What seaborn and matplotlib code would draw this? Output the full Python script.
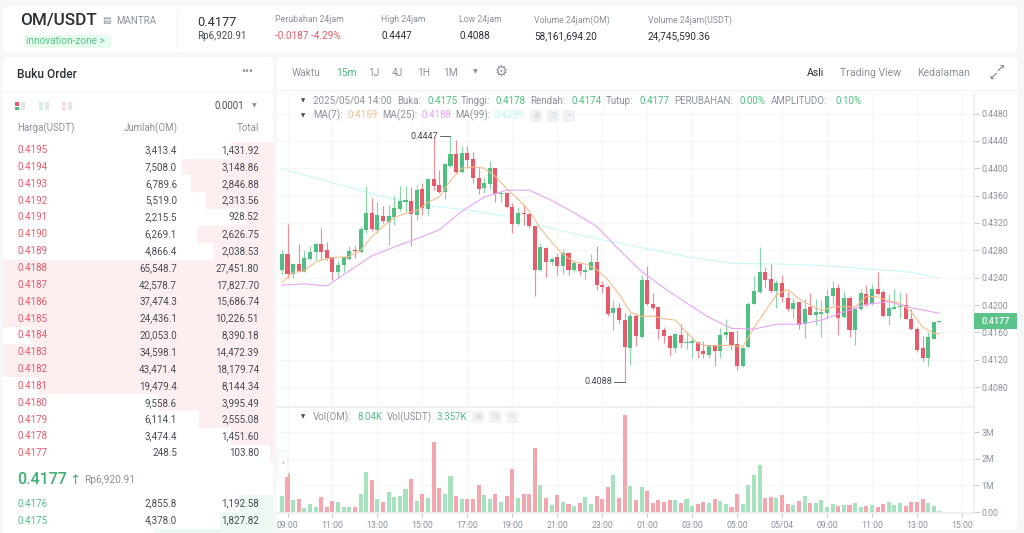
import matplotlib
matplotlib.use('Agg')
import matplotlib.pyplot as plt
from matplotlib.patches import FancyBboxPatch, Rectangle
import numpy as np
import pandas as pd
import seaborn as sns

# -----------------------------
# candle data, 15m
# -----------------------------
candle_open = [.4252, .4275, .4246, .4260, .4249, .4268, .4278, .4290, .4280, .4270, .4249, .4258,
               .4267, .4281, .4278, .4310, .4334, .4310, .4330, .4322, .4329, .4340, .4351, .4352,
               .4332, .4369, .4341, .4385, .4376, .4366, .4404, .4421, .4394, .4422, .4413, .4386,
               .4371, .4377, .4400, .4362, .4364, .4344, .4319, .4334, .4333, .4315, .4251, .4284,
               .4263, .4270, .4257, .4276, .4251, .4260, .4248, .4252, .4263, .4230, .4227, .4188,
               .4196, .4178, .4138, .4184, .4153, .4237, .4202, .4197, .4164, .4155, .4137, .4156,
               .4144, .4145, .4146, .4133, .4127, .4141, .4133, .4156, .4160, .4143, .4111, .4139,
               .4202, .4219, .4249, .4238, .4220, .4233, .4211, .4194, .4204, .4172, .4197, .4185,
               .4187, .4189, .4214, .4225, .4182, .4211, .4164, .4195, .4216, .4201, .4223, .4219,
               .4184, .4195, .4197, .4200, .4180, .4165, .4137, .4123, .4151, .4175]
candle_close = [.4275, .4246, .4260, .4250, .4269, .4278, .4290, .4278, .4269, .4249, .4258, .4270,
                .4279, .4279, .4311, .4334, .4311, .4331, .4323, .4330, .4342, .4352, .4353, .4333,
                .4368, .4342, .4385, .4374, .4366, .4406, .4421, .4394, .4423, .4412, .4386, .4369,
                .4378, .4400, .4363, .4364, .4343, .4319, .4334, .4333, .4315, .4251, .4285, .4263,
                .4268, .4257, .4276, .4251, .4261, .4250, .4252, .4263, .4229, .4226, .4187, .4196,
                .4178, .4139, .4184, .4155, .4237, .4202, .4196, .4165, .4155, .4137, .4158, .4144,
                .4146, .4147, .4133, .4128, .4141, .4133, .4157, .4160, .4141, .4111, .4138, .4202,
                .4220, .4249, .4237, .4220, .4232, .4212, .4194, .4203, .4171, .4195, .4186, .4190,
                .4190, .4214, .4225, .4181, .4210, .4164, .4195, .4217, .4200, .4223, .4216, .4184,
                .4196, .4197, .4199, .4180, .4165, .4135, .4122, .4153, .4175, .4177]
candle_high = [.4281, .4319, .4262, .4290, .4281, .4287, .4291, .4312, .4292, .4271, .4264, .4271,
               .4286, .4286, .4316, .4374, .4356, .4350, .4345, .4347, .4360, .4374, .4374, .4373,
               .4376, .4378, .4386, .4446, .4397, .4407, .4447, .4441, .4432, .4433, .4424, .4400,
               .4387, .4410, .4401, .4366, .4366, .4349, .4344, .4347, .4334, .4316, .4291, .4285,
               .4271, .4276, .4282, .4277, .4264, .4263, .4257, .4275, .4287, .4235, .4229, .4208,
               .4203, .4189, .4188, .4188, .4244, .4257, .4218, .4197, .4168, .4156, .4159, .4173,
               .4160, .4154, .4146, .4148, .4142, .4142, .4166, .4179, .4162, .4164, .4139, .4204,
               .4242, .4285, .4256, .4260, .4237, .4244, .4220, .4210, .4205, .4209, .4217, .4209,
               .4208, .4223, .4235, .4231, .4220, .4213, .4196, .4224, .4230, .4231, .4249, .4222,
               .4216, .4223, .4219, .4217, .4194, .4168, .4155, .4161, .4176, .4178]
candle_low = [.4246, .4240, .4240, .4249, .4248, .4266, .4266, .4266, .4266, .4236, .4240, .4248,
              .4266, .4269, .4276, .4306, .4308, .4305, .4320, .4288, .4317, .4338, .4336, .4287,
              .4324, .4332, .4332, .4368, .4364, .4355, .4402, .4392, .4393, .4400, .4378, .4363,
              .4364, .4369, .4351, .4351, .4342, .4306, .4317, .4317, .4312, .4213, .4250, .4241,
              .4259, .4244, .4245, .4244, .4248, .4244, .4238, .4251, .4222, .4217, .4184, .4163,
              .4174, .4088, .4112, .4140, .4152, .4200, .4193, .4151, .4145, .4125, .4130, .4138,
              .4136, .4123, .4122, .4122, .4123, .4111, .4122, .4150, .4134, .4105, .4110, .4137,
              .4201, .4218, .4226, .4219, .4196, .4204, .4192, .4181, .4165, .4152, .4185, .4171,
              .4154, .4179, .4200, .4157, .4181, .4154, .4142, .4193, .4199, .4200, .4215, .4182,
              .4171, .4194, .4181, .4179, .4164, .4131, .4118, .4111, .4150, .4174]
volume_m = [.61, 1.45, .44, .50, .16, .30, .19, .55, .18, .41, .36, .19, .18, .20, .68, 1.50, 1.19,
            .48, .36, .75, .56, .61, .85, 1.25, .40, .69, .51, 2.64, .89, .68, 1.35, .60, .49, .48,
            .49, 1.01, .64, .50, .66, .38, .60, 1.61, .51, .68, .68, 2.39, 1.03, .53, .26, .65, .38,
            .29, .23, .34, .55, .30, .60, .48, .93, 1.39, .53, 3.64, .96, .45, .95, .78, .35, .45,
            .36, .44, .45, .34, .50, .21, .29, .38, .34, .50, .43, .31, .19, .69, .31, 1.03, 1.39,
            1.75, .51, .55, .54, .63, .30, .25, .40, .61, .33, .34, .45, .19, .31, .24, .25, .25,
            .34, .19, .23, .25, .20, .30, .38, .26, .33, .21, .39, .38, .48, .33, .23, .04]

ma7_idx = [-1, 1, 3, 5, 7, 9, 11, 13, 15, 17, 19, 21, 23, 25, 27, 29, 31, 33, 35, 37, 39, 41, 43, 45,
           47, 49, 51, 53, 55, 57, 59, 61, 63, 65, 67, 69, 71, 73, 75, 77, 79, 81, 83, 85, 87, 89,
           91, 93, 95, 97, 99, 101, 103, 105, 107, 109, 111, 113, 115, 116]
ma7 = [.4233, .4248, .4250, .4263, .4268, .4270, .4271, .4280, .4300, .4315, .4328, .4334, .4338,
       .4350, .4358, .4382, .4400, .4402, .4400, .4388, .4370, .4355, .4338, .4312, .4292, .4274,
       .4263, .4260, .4252, .4237, .4216, .4190, .4183, .4184, .4180, .4178, .4160, .4144, .4140,
       .4141, .4141, .4139, .4167, .4191, .4215, .4223, .4209, .4200, .4192, .4197, .4198, .4197,
       .4213, .4212, .4206, .4203, .4190, .4168, .4159, .4158]
ma25_idx = [-1, 3, 7, 11, 15, 19, 23, 27, 31, 35, 39, 43, 47, 51, 55, 59, 63, 67, 71, 75, 79, 83,
            87, 91, 95, 99, 103, 107, 111, 116]
ma25 = [.4229, .4231, .4228, .4250, .4272, .4285, .4297, .4310, .4337, .4358, .4368, .4368, .4353,
        .4335, .4315, .4281, .4249, .4225, .4203, .4182, .4166, .4165, .4172, .4172, .4178, .4190,
        .4201, .4205, .4196, .4188]
ma99_idx = [-1, 7, 15, 23, 31, 39, 47, 55, 63, 71, 79, 87, 95, 103, 111, 114, 116]
ma99 = [.4399, .4381, .4363, .4347, .4340, .4330, .4312, .4297, .4284, .4271, .4261, .4260, .4258,
        .4253, .4248, .4243, .4240]

price_ticks = [.4080, .4120, .4160, .4200, .4240, .4280, .4320, .4360, .4400, .4440, .4480]
vol_ticks = [0, 1, 2, 3]
vol_tick_labels = ['0.00', '1M', '2M', '3M']
time_tick_idx = list(range(0, 121, 8))
time_labels = ['09:00', '11:00', '13:00', '15:00', '17:00', '19:00', '21:00', '23:00',
               '01:00', '03:00', '05:00', '05/04', '09:00', '11:00', '13:00', '15:00']

# order book
ask_price = ['0.4195', '0.4194', '0.4193', '0.4192', '0.4191', '0.4190', '0.4189', '0.4188', '0.4187', '0.4186',
             '0.4185', '0.4184', '0.4183', '0.4182', '0.4181', '0.4180', '0.4179', '0.4178', '0.4177']
ask_amount = ['3,413.4', '7,508.0', '6,789.6', '5,519.0', '2,215.5', '6,269.1', '4,866.4', '65,548.7', '42,578.7',
              '37,474.3', '24,436.1', '20,053.0', '34,598.1', '43,471.4', '19,479.4', '9,558.6', '6,114.1',
              '3,474.4', '248.5']
ask_total = [1431.92, 3148.86, 2846.88, 2313.56, 928.52, 2626.75, 2038.53, 27451.80, 17827.70, 15686.74,
             10226.51, 8390.18, 14472.39, 18179.74, 8144.34, 3995.49, 2555.08, 1451.60, 103.80]
bid_price = ['0.4176', '0.4175', '0.4174']
bid_amount = ['2,855.8', '4,378.0']
bid_total = [1192.58, 1827.82, 4118.0]

# header
header_stats = [('Perubahan 24jam', '-0.0187 -4.29%', 275), ('High 24jam', '0.4447', 381),
                ('Low 24jam', '0.4088', 459), ('Volume 24jam(OM)', '58,161,694.20', 534),
                ('Volume 24jam(USDT)', '24,745,590.36', 648)]

RED, GREEN = '#e75a69', '#52bf82'
RED_SOFT, GREEN_SOFT = '#f3a6ae', '#a6e2bd'
GRID = '#f5f6f7'
DARK, MID, LIGHT = '#2b2f36', '#474d57', '#8a919e'

sns.set_theme(style='white')
plt.rcParams['font.family'] = ['Roboto', 'DejaVu Sans']
plt.rcParams['axes.unicode_minus'] = False

W, H = 1024, 533
fig = plt.figure(figsize=(W / 100, H / 100), dpi=100, facecolor='#f6f7f9')


def px_axes(x0, y0, x1, y1, zorder=1):
    """axes placed by pixel box, y measured from the top"""
    ax = fig.add_axes([x0 / W, 1 - y1 / H, (x1 - x0) / W, (y1 - y0) / H], zorder=zorder)
    ax.patch.set_alpha(0)
    return ax


# -----------------------------
# panels in the back, text overlay in front
# -----------------------------
bg = px_axes(0, 0, W, H, zorder=0)
bg.set_xlim(0, W)
bg.set_ylim(H, 0)
bg.axis('off')
for x0, y0, x1, y1 in [(3, 6, 1018, 52), (3, 57, 273, 545), (277, 57, 1018, 529)]:
    bg.add_patch(FancyBboxPatch((x0 + 5, y0 + 5), x1 - x0 - 10, y1 - y0 - 10,
                                boxstyle='round,pad=5', fc='white', ec='none'))
bg.plot([177, 177], [9, 48], color='#f1f2f4', lw=0.8)
bg.plot([3, 273], [91, 91], color='#f3f4f6', lw=0.8)
bg.plot([277, 1018], [90, 90], color='#f3f4f6', lw=0.8)

ui = px_axes(0, 0, W, H, zorder=5)
ui.set_xlim(0, W)
ui.set_ylim(H, 0)
ui.axis('off')


def label(x, y, s, size=6.4, color=MID, ha='left', weight='normal', **kw):
    ui.text(x, y, s, fontsize=size, color=color, ha=ha, va='center', fontweight=weight, **kw)


# header
label(20, 21, 'OM/USDT', size=12.3, color=DARK, weight='medium')
label(102, 21, '▤', size=6.5, color=LIGHT)
label(116, 21, 'MANTRA', size=7, color=LIGHT)
ui.add_patch(Rectangle((24, 35), 87, 13, fc='#e8fbef', ec='none'))
label(26, 41.5, 'innovation-zone >', size=7.2, color='#58c487')
label(197, 22, '0.4177', size=9.2, color=DARK)
label(197, 36, 'Rp6,920.91', size=7.1, color=MID)
for title, value, x in header_stats:
    label(x, 20, title, size=6.3, color=LIGHT)
    label(x, 36, value, size=7.2, color=RED if value.startswith('-') else DARK)

# toolbar
label(292, 73, 'Waktu', size=7.4, color=LIGHT)
label(336, 73, '15m', size=7.4, color='#4cb979')
label(368, 73, '1J', size=7.4, color=LIGHT)
label(392, 73, '4J', size=7.4, color=LIGHT)
label(417, 73, '1H', size=7.4, color=LIGHT)
label(443, 73, '1M', size=7.4, color=LIGHT)
label(473, 72, '▼', size=4.5, color=LIGHT)
label(495, 72, '⚙', size=10.5, color=LIGHT)
label(807, 73, 'Asli', size=7.6, color=DARK)
label(840, 73, 'Trading View', size=7.6, color=LIGHT)
label(917, 73, 'Kedalaman', size=7.6, color=LIGHT)
label(988, 77, '↙', size=8, color=LIGHT, weight='bold')
label(995, 69, '↗', size=8, color=LIGHT, weight='bold')

# order book text
label(17, 74, 'Buku Order', size=8.6, color=DARK, weight='medium')
label(241, 72, '•••', size=8.5, color=LIGHT)
for k, (x, c) in enumerate([(15, ['#e75a69', '#52bf82']), (39, ['#cfeedd', '#cfeedd']), (62, ['#fad9dc', '#fad9dc'])]):
    ui.add_patch(Rectangle((x, 102), 4, 3.5, fc=c[0], ec='none'))
    ui.add_patch(Rectangle((x, 106.5), 4, 3.5, fc=c[1], ec='none'))
    ui.add_patch(Rectangle((x + 5.5, 102), 4, 8, fc='#e3e5e8', ec='none'))
label(244, 106, '0.0001', size=7, ha='right')
label(252, 105.5, '▼', size=4.5, color=LIGHT)
label(17, 128, 'Harga(USDT)', size=7, color=LIGHT)
label(178, 128, 'Jumlah(OM)', size=7, color=LIGHT, ha='right')
label(259, 128, 'Total', size=7, color=LIGHT, ha='right')

row_h = 320 / 19
for k, (p, a, t) in enumerate(zip(ask_price, ask_amount, ask_total)):
    y = 141.7 + row_h * (k + 0.5)
    label(17, y, p, size=7, color=RED)
    label(177, y, a, size=7.1, ha='right')
    label(259, y, f'{t:,.2f}', size=7.1, ha='right')
label(17, 480, '0.4177', size=11.5, color='#3fb072', weight='medium')
label(69, 480, '↑', size=9.5, color='#3fb072')
label(84, 480, 'Rp6,920.91', size=7.3, color=LIGHT)
for k, (p, a) in enumerate(zip(bid_price, bid_amount)):
    y = 503.6 + 16.9 * k
    label(17, y, p, size=7, color='#52bf82')
    label(177, y, a, size=7.1, ha='right')
    label(259, y, f'{bid_total[k]:,.2f}', size=7.1, ha='right')

# depth bars, same scale for asks and bids. linewidth 0, the theme puts white edges on patches
depth_max = 270 / 0.0289
ask_ax = px_axes(3, 141.7, 273, 461.7)
sns.barplot(x=ask_total, y=ask_price, orient='h', color='#fdeef0', saturation=1, width=1.0, linewidth=0, ax=ask_ax)
ask_ax.set_xlim(depth_max, 0)
ask_ax.set_ylim(18.5, -0.5)
ask_ax.axis('off')
bid_ax = px_axes(3, 495, 273, 533)
sns.barplot(x=bid_total, y=bid_price, orient='h', color='#eef8f2', saturation=1, width=1.0, linewidth=0, ax=bid_ax)
bid_ax.set_xlim(depth_max, 0)
bid_ax.set_ylim(1.75, -0.5)
bid_ax.axis('off')

# -----------------------------
# candles + MA
# -----------------------------
idx = np.arange(-1, 117)
candles = pd.DataFrame({'idx': idx, 'open': candle_open, 'high': candle_high, 'low': candle_low,
                        'close': candle_close, 'vol': volume_m})
candles['dir'] = np.where(candles['close'] >= candles['open'], 'up', 'down')

x_px = lambda px: (px - 287.5) / 5.62
y_per_px = 0.004 / 27.37
price_ax = px_axes(277, 93, 974, 407, zorder=2)
price_ax.set_xlim(x_px(277), x_px(974))
price_ax.set_ylim(.4480 - (407 - 113.5) * y_per_px, .4480 + (113.5 - 93) * y_per_px)

for d, body_c, wick_c in [('up', GREEN, '#8bd5aa'), ('down', RED, '#ef8d97')]:
    part = candles[candles['dir'] == d]
    price_ax.vlines(part['idx'], part['low'], part['high'], color=wick_c, lw=0.85, zorder=3)
    bottom = part[['open', 'close']].min(axis=1)
    height = (part['close'] - part['open']).abs().clip(lower=0.00018)
    price_ax.bar(part['idx'], height, bottom=bottom, width=0.72, color=body_c, linewidth=0, zorder=4)

sns.lineplot(x=ma7_idx, y=ma7, color='#f6bd8c', lw=0.8, ax=price_ax, zorder=5)
sns.lineplot(x=ma25_idx, y=ma25, color='#e8a4f6', lw=0.8, ax=price_ax, zorder=5)
sns.lineplot(x=ma99_idx, y=ma99, color='#c8f7fa', lw=0.8, ax=price_ax, zorder=2.5)

price_ax.set_yticks(price_ticks)
price_ax.set_yticklabels([f'{p:.4f}' for p in price_ticks])
price_ax.set_xticks(time_tick_idx)
price_ax.set_xticklabels([])
price_ax.yaxis.tick_right()
price_ax.grid(True, color=GRID, lw=0.8)
price_ax.set_axisbelow(True)
price_ax.tick_params(axis='y', length=3.5, width=0.6, color='#b7bdc6', labelsize=6.3,
                     labelcolor=LIGHT, pad=2, right=True)
price_ax.tick_params(axis='x', length=0)
for s in ['top', 'left']:
    price_ax.spines[s].set_visible(False)
price_ax.spines['right'].set_color('#eceef0')
price_ax.spines['bottom'].set_color('#eceef0')

hi = candles.loc[candles['high'].idxmax()]
lo = candles.loc[candles['low'].idxmin()]
for row, val in [(hi, hi['high']), (lo, lo['low'])]:
    price_ax.plot([row['idx'] - 1.85, row['idx']], [val, val], color='#5a6069', lw=0.7, zorder=5)
    price_ax.annotate(f'{val:.4f}', (row['idx'] - 2.2, val), ha='right', va='center', fontsize=6.6,
                      color=MID, zorder=6)

# -----------------------------
# volume
# -----------------------------
vol_ax = px_axes(277, 407, 974, 513, zorder=2)
sns.barplot(data=candles, x='idx', y='vol', hue='dir', palette={'up': GREEN_SOFT, 'down': RED_SOFT},
            native_scale=True, dodge=False, width=0.72, saturation=1, linewidth=0, legend=False,
            ax=vol_ax, zorder=3)
vol_ax.set_xlim(x_px(277), x_px(974))
vol_ax.set_ylim(-1 / 26.6, 105 / 26.6)
vol_ax.set_xlabel('')
vol_ax.set_ylabel('')
vol_ax.set_yticks(vol_ticks)
vol_ax.set_yticklabels(vol_tick_labels)
vol_ax.set_xticks(time_tick_idx)
vol_ax.set_xticklabels(time_labels)
vol_ax.yaxis.tick_right()
vol_ax.grid(True, color=GRID, lw=0.8)
vol_ax.set_axisbelow(True)
vol_ax.tick_params(axis='y', length=3.5, width=0.6, color='#b7bdc6', labelsize=6.3,
                   labelcolor=LIGHT, pad=2, right=True)
vol_ax.tick_params(axis='x', length=3, width=0.6, color='#b7bdc6', labelsize=6.3,
                   labelcolor=LIGHT, pad=3, bottom=True)
for s in ['top', 'left']:
    vol_ax.spines[s].set_visible(False)
vol_ax.spines['right'].set_color('#eceef0')
vol_ax.spines['bottom'].set_color('#eceef0')

# -----------------------------
# chart legends, price tag
# -----------------------------
MA_LBL = '#8a919e'
ui.add_patch(Rectangle((296, 94), 566, 14, fc='white', alpha=0.75, ec='none'))
label(301, 100.5, '▼', size=4, color=MID)
row1 = [(313, '2025/05/04 14:00', MA_LBL), (397, 'Buka:', MA_LBL), (427, '0.4175', GREEN),
        (461, 'Tinggi:', MA_LBL), (495, '0.4178', GREEN), (530, 'Rendah:', MA_LBL), (572, '0.4174', GREEN),
        (606, 'Tutup:', MA_LBL), (639, '0.4177', GREEN), (674, 'PERUBAHAN:', MA_LBL), (740, '0.00%', GREEN),
        (771, 'AMPLITUDO:', MA_LBL), (835, '0.10%', GREEN)]
for x, s, c in row1:
    label(x, 100.5, s, size=7, color=c)
label(301, 115.5, '▼', size=4, color=MID)
row2 = [(313, 'MA(7):', MA_LBL), (347, '0.4159', '#f6bd8c'), (382, 'MA(25):', MA_LBL), (421, '0.4188', '#e8a4f6'),
        (455, 'MA(99):', MA_LBL), (493, '0.4239', '#bdf5f8')]
for x, s, c in row2:
    label(x, 115.5, s, size=7, color=c)
for x, s in zip([530, 547, 563], ['◉', '⚙', '×']):
    ui.add_patch(Rectangle((x, 110), 12, 12, fc='#f1f2f3', ec='none'))
    label(x + 6, 115.7, s, size=6.5, color='#dcdfe3', ha='center')
label(301, 417, '▼', size=4, color=MID)
row3 = [(313, 'Vol(OM):', MA_LBL), (357, '8.04K', GREEN), (387, 'Vol(USDT)', MA_LBL), (437, '3.357K', GREEN)]
for x, s, c in row3:
    label(x, 417, s, size=7, color=c)
for x, s in zip([472, 489, 506], ['◉', '⚙', '×']):
    ui.add_patch(Rectangle((x, 411), 12, 12, fc='#f1f2f3', ec='none'))
    label(x + 6, 416.7, s, size=6.5, color='#dcdfe3', ha='center')
ui.add_patch(FancyBboxPatch((280, 453), 6, 22, boxstyle='round,pad=2', fc='white', ec='#eef0f2', lw=0.6))
label(283, 463.5, '›', size=6, color=LIGHT, ha='center')

ui.add_patch(Rectangle((974, 313), 43, 16, fc='#5cc48a', ec='none'))
label(995.5, 321, '0.4177', size=6.6, color='white', ha='center', weight='medium')

fig.savefig('out.png', dpi=100, facecolor=fig.get_facecolor())
